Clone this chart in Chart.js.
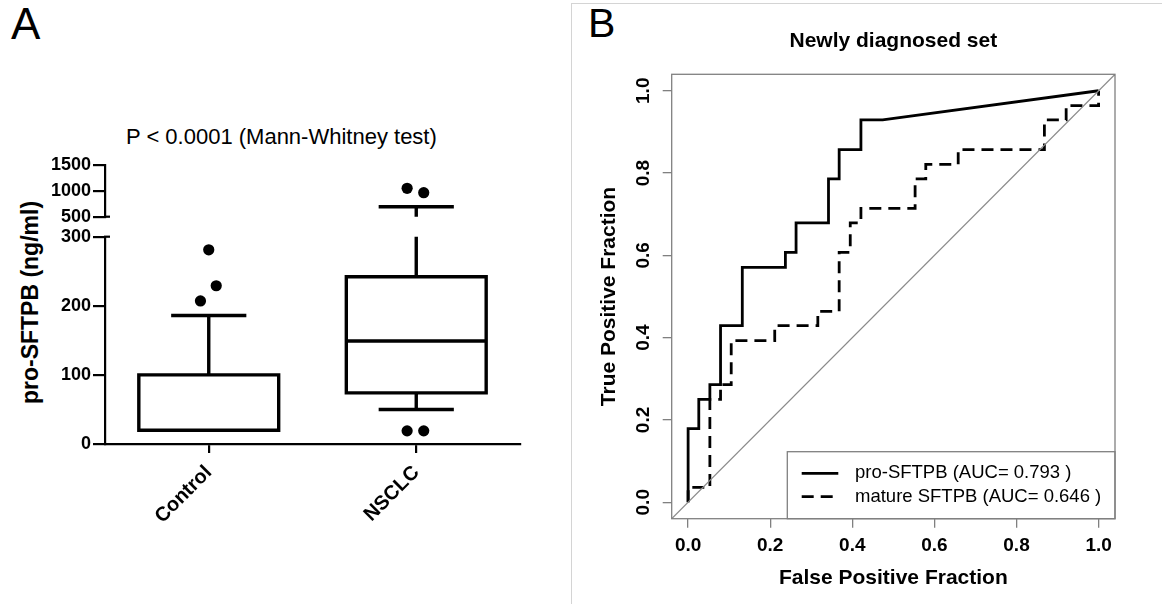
<!DOCTYPE html>
<html>
<head>
<meta charset="utf-8">
<script src="https://cdn.jsdelivr.net/npm/chart.js@4.4.1/dist/chart.umd.min.js"></script>
<style>
  body { margin: 0; background: #fff; font-family: "Liberation Sans", Arial, sans-serif; }
  #wrap { position: relative; width: 1162px; height: 604px; overflow: hidden; }
  canvas { position: absolute; top: 0; }
  .letter { position: absolute; color: #000; }
  #sepV { position: absolute; left: 571px; top: 3px; width: 0; height: 604px; border-left: 1px solid #d4d4d4; }
  #sepH { position: absolute; left: 571px; top: 3px; width: 600px; height: 0; border-top: 1px solid #d4d4d4; }
  #ptitle { position: absolute; left: 126px; top: 126px; font-size: 22px; line-height: 22px; white-space: nowrap; }
  #ytitleA { position: absolute; left: -120.5px; top: 291px; width: 300px; text-align: center;
             font-size: 23px; line-height: 23px; font-weight: bold; transform: rotate(-90deg); white-space: nowrap; }
</style>
</head>
<body>
<div id="wrap">
  <div class="letter" style="left:11px;top:2px;font-size:44px;line-height:44px;">A</div>
  <div class="letter" style="left:588px;top:3px;font-size:41px;line-height:41px;">B</div>
  <div id="sepV"></div><div id="sepH"></div>
  <div id="ptitle">P &lt; 0.0001 (Mann-Whitney test)</div>
  <div id="ytitleA">pro-SFTPB (ng/ml)</div>
  <canvas id="boxLow" width="570" height="604" style="left:0"></canvas>
  <canvas id="boxHigh" width="570" height="604" style="left:0"></canvas>
  <canvas id="roc" width="587" height="604" style="left:575px"></canvas>
</div>
<script>
Chart.defaults.font.family = '"Liberation Sans", Arial, sans-serif';
Chart.defaults.color = '#000';

// panel A - pro-SFTPB (ng/ml), box and whiskers
const groups = ['Control', 'NSCLC'];
const q1 = [20, 74];
const median = [20, 149];
const q3 = [100, 242];
const whiskerLo = [20, 50];
const whiskerHi = [186, 693];
const outliers = [[207, 281, 229], [19, 19, 1049, 964]];
const outlierShift = [[-0.04, 0, 0.036], [-0.044, 0.036, -0.044, 0.036]];
const lowTicks = [0, 100, 200, 300];
const highTicks = [500, 1000, 1500];

// panel B - ROC, newly diagnosed set
const fracTicks = [0, 0.2, 0.4, 0.6, 0.8, 1.0];
const proFpr = [0, 0, 0.026, 0.026, 0.053, 0.053, 0.079, 0.079, 0.132, 0.132, 0.237, 0.237,
                0.263, 0.263, 0.342, 0.342, 0.368, 0.368, 0.421, 0.421, 0.474, 1];
const proTpr = [0, 0.179, 0.179, 0.25, 0.25, 0.286, 0.286, 0.429, 0.429, 0.571, 0.571, 0.607,
                0.607, 0.679, 0.679, 0.786, 0.786, 0.857, 0.857, 0.929, 0.929, 1];
const matFpr = [0, 0, 0.053, 0.053, 0.079, 0.079, 0.105, 0.105, 0.211, 0.211, 0.316, 0.316,
                0.368, 0.368, 0.395, 0.395, 0.421, 0.421, 0.553, 0.553, 0.579, 0.579,
                0.658, 0.658, 0.868, 0.868, 0.921, 0.921, 1, 1];
const matTpr = [0, 0.036, 0.036, 0.25, 0.25, 0.286, 0.286, 0.393, 0.393, 0.429, 0.429, 0.464,
                0.464, 0.607, 0.607, 0.679, 0.679, 0.714, 0.714, 0.786, 0.786, 0.821,
                0.821, 0.857, 0.857, 0.929, 0.929, 0.964, 0.964, 1];
const rocLabels = ['pro-SFTPB (AUC= 0.793 )', 'mature SFTPB (AUC= 0.646 )'];
const axMin = -0.04, axMax = 1.04;

const BOX_W = 0.337, CAP_W = 0.173;

// line pieces of the boxes, cut to the part of the broken axis [lo, hi]
function boxLines(lo, hi) {
  const pts = [];
  const clip = v => Math.min(Math.max(v, lo), hi);
  const seg = (x1, y1, x2, y2) => {
    if (Math.max(y1, y2) < lo || Math.min(y1, y2) > hi) return;
    pts.push({x: x1, y: clip(y1)}, {x: x2, y: clip(y2)}, {x: x2, y: null});
  };
  groups.forEach((g, i) => {
    const x = i + 1;
    if (q1[i] >= lo && q3[i] <= hi) {
      pts.push({x: x - BOX_W, y: q1[i]}, {x: x - BOX_W, y: q3[i]}, {x: x + BOX_W, y: q3[i]},
               {x: x + BOX_W, y: q1[i]}, {x: x - BOX_W, y: q1[i]}, {x: x, y: null});
    }
    seg(x - BOX_W, median[i], x + BOX_W, median[i]);
    seg(x, q3[i], x, whiskerHi[i]);
    seg(x - CAP_W, whiskerHi[i], x + CAP_W, whiskerHi[i]);
    if (whiskerLo[i] < q1[i]) {
      seg(x, whiskerLo[i], x, q1[i]);
      seg(x - CAP_W, whiskerLo[i], x + CAP_W, whiskerLo[i]);
    }
  });
  return pts;
}

function outlierPoints(lo, hi) {
  const pts = [];
  outliers.forEach((list, i) => list.forEach((v, j) => {
    if (v >= lo && v <= hi) pts.push({x: i + 1 + outlierShift[i][j], y: v});
  }));
  return pts;
}

// short stub to the right of the axis where the axis is broken
const axisStub = {
  id: 'axisStub',
  afterDraw(chart, args, opts) {
    const {ctx, chartArea: a} = chart;
    const y = opts.at === 'top' ? a.top : a.bottom;
    ctx.save();
    ctx.strokeStyle = '#000';
    ctx.lineWidth = 2.2;
    ctx.beginPath();
    ctx.moveTo(a.left - 1, y);
    ctx.lineTo(a.left + 5, y);
    ctx.stroke();
    ctx.restore();
  }
};

function boxChart(id, lo, hi, ticks, padTop, padBottom, showX, stubAt) {
  return new Chart(document.getElementById(id), {
    type: 'scatter',
    data: {
      datasets: [
        { data: boxLines(lo, hi), showLine: true, spanGaps: false, borderColor: '#000',
          borderWidth: 3.4, borderCapStyle: 'square', pointRadius: 0 },
        { data: outlierPoints(lo, hi), backgroundColor: '#000', borderColor: '#000',
          borderWidth: 0, pointRadius: 5.6 }
      ]
    },
    options: {
      responsive: false, animation: false, events: [],
      layout: { padding: { left: 0, right: 50, top: padTop, bottom: padBottom } },
      plugins: { legend: { display: false }, tooltip: { enabled: false }, axisStub: { at: stubAt } },
      scales: {
        x: {
          type: 'linear', min: 0.5, max: 2.5, display: showX,
          afterBuildTicks: s => { s.ticks = groups.map((g, i) => ({value: i + 1})); },
          afterFit: s => { if (showX) s.height = 160; },
          ticks: { callback: v => groups[v - 1], minRotation: 45, maxRotation: 45,
                   font: { size: 20, weight: 'bold' }, padding: 8 },
          grid: { drawOnChartArea: false, color: '#000', lineWidth: 2.2, tickLength: 9 },
          border: { color: '#000', width: 2.2 }
        },
        y: {
          min: lo, max: hi,
          afterBuildTicks: s => { s.ticks = ticks.map(v => ({value: v})); },
          afterFit: s => { s.width = 105; },
          ticks: { callback: v => String(v), font: { size: 18, weight: 'bold' }, padding: 2 },
          grid: { drawOnChartArea: false, color: '#000', lineWidth: 2.2, tickLength: 12 },
          border: { color: '#000', width: 2.2 }
        }
      }
    },
    plugins: [axisStub]
  });
}

boxChart('boxLow', 0, 300, lowTicks, 236.7, 0, true, 'top');
boxChart('boxHigh', 500, 1500, highTicks, 165, 604 - 216.7, false, 'bottom');

// frame and legend box of the ROC plot
const rocFrame = {
  id: 'rocFrame',
  afterDatasetsDraw(chart) {
    const {ctx, chartArea: a} = chart;
    ctx.save();
    ctx.strokeStyle = '#808080';
    ctx.lineWidth = 1.3;
    ctx.strokeRect(a.left, a.top, a.right - a.left, a.bottom - a.top);
    const bx = a.left + 115.6, by = a.bottom - 67;
    ctx.strokeRect(bx, by, a.right - bx, a.bottom - by);
    ctx.font = '18.5px "Liberation Sans", Arial, sans-serif';
    ctx.textBaseline = 'middle';
    chart.data.datasets.slice(1).forEach((ds, i) => {
      const y = a.bottom - 45.4 + i * 23.4;
      ctx.strokeStyle = ds.borderColor;
      ctx.lineWidth = ds.borderWidth;
      ctx.setLineDash(ds.borderDash || []);
      ctx.beginPath();
      ctx.moveTo(bx + 14.4, y);
      ctx.lineTo(bx + 51, y);
      ctx.stroke();
      ctx.setLineDash([]);
      ctx.fillStyle = '#000';
      ctx.fillText(ds.label, bx + 67.7, y);
    });
    ctx.restore();
  }
};

const fracAxis = extra => Object.assign({
  type: 'linear', min: axMin, max: axMax,
  afterBuildTicks: s => { s.ticks = fracTicks.map(v => ({value: v})); },
  grid: { drawOnChartArea: false, color: '#808080', lineWidth: 1.3, tickLength: 9 },
  border: { display: false }
}, extra);

new Chart(document.getElementById('roc'), {
  type: 'scatter',
  data: {
    datasets: [
      { label: 'chance', data: [{x: axMin, y: axMin}, {x: axMax, y: axMax}], showLine: true,
        borderColor: '#8a8a8a', borderWidth: 1.2, pointRadius: 0 },
      { label: rocLabels[0], data: proFpr.map((v, i) => ({x: v, y: proTpr[i]})), showLine: true,
        borderColor: '#000', borderWidth: 2.8, pointRadius: 0 },
      { label: rocLabels[1], data: matFpr.map((v, i) => ({x: v, y: matTpr[i]})), showLine: true,
        borderColor: '#000', borderWidth: 2.8, borderDash: [12, 7], pointRadius: 0 }
    ]
  },
  options: {
    responsive: false, animation: false, events: [],
    layout: { padding: { left: 0, right: 47, top: 0, bottom: 0 } },
    plugins: {
      legend: { display: false }, tooltip: { enabled: false },
      title: { display: true, text: 'Newly diagnosed set', fullSize: false,
               font: { size: 21, weight: 'bold' }, padding: { top: 28.4, bottom: 20.7 } }
    },
    scales: {
      x: fracAxis({
        afterFit: s => { s.height = 85.3; },
        ticks: { callback: v => v.toFixed(1), font: { size: 19, weight: 'bold' }, padding: 6.7 },
        title: { display: true, text: 'False Positive Fraction', font: { size: 21, weight: 'bold' },
                 padding: { top: 0, bottom: 13.1 } }
      }),
      y: fracAxis({
        afterFit: s => { s.width = 96.7; },
        ticks: { callback: v => v.toFixed(1), font: { size: 19, weight: 'bold' }, padding: 6.2,
                 minRotation: 90, maxRotation: 90, crossAlign: 'center' },
        title: { display: true, text: 'True Positive Fraction', font: { size: 21, weight: 'bold' },
                 padding: { top: 21.4, bottom: 0 } }
      })
    }
  },
  plugins: [rocFrame]
});
</script>
</body>
</html>
